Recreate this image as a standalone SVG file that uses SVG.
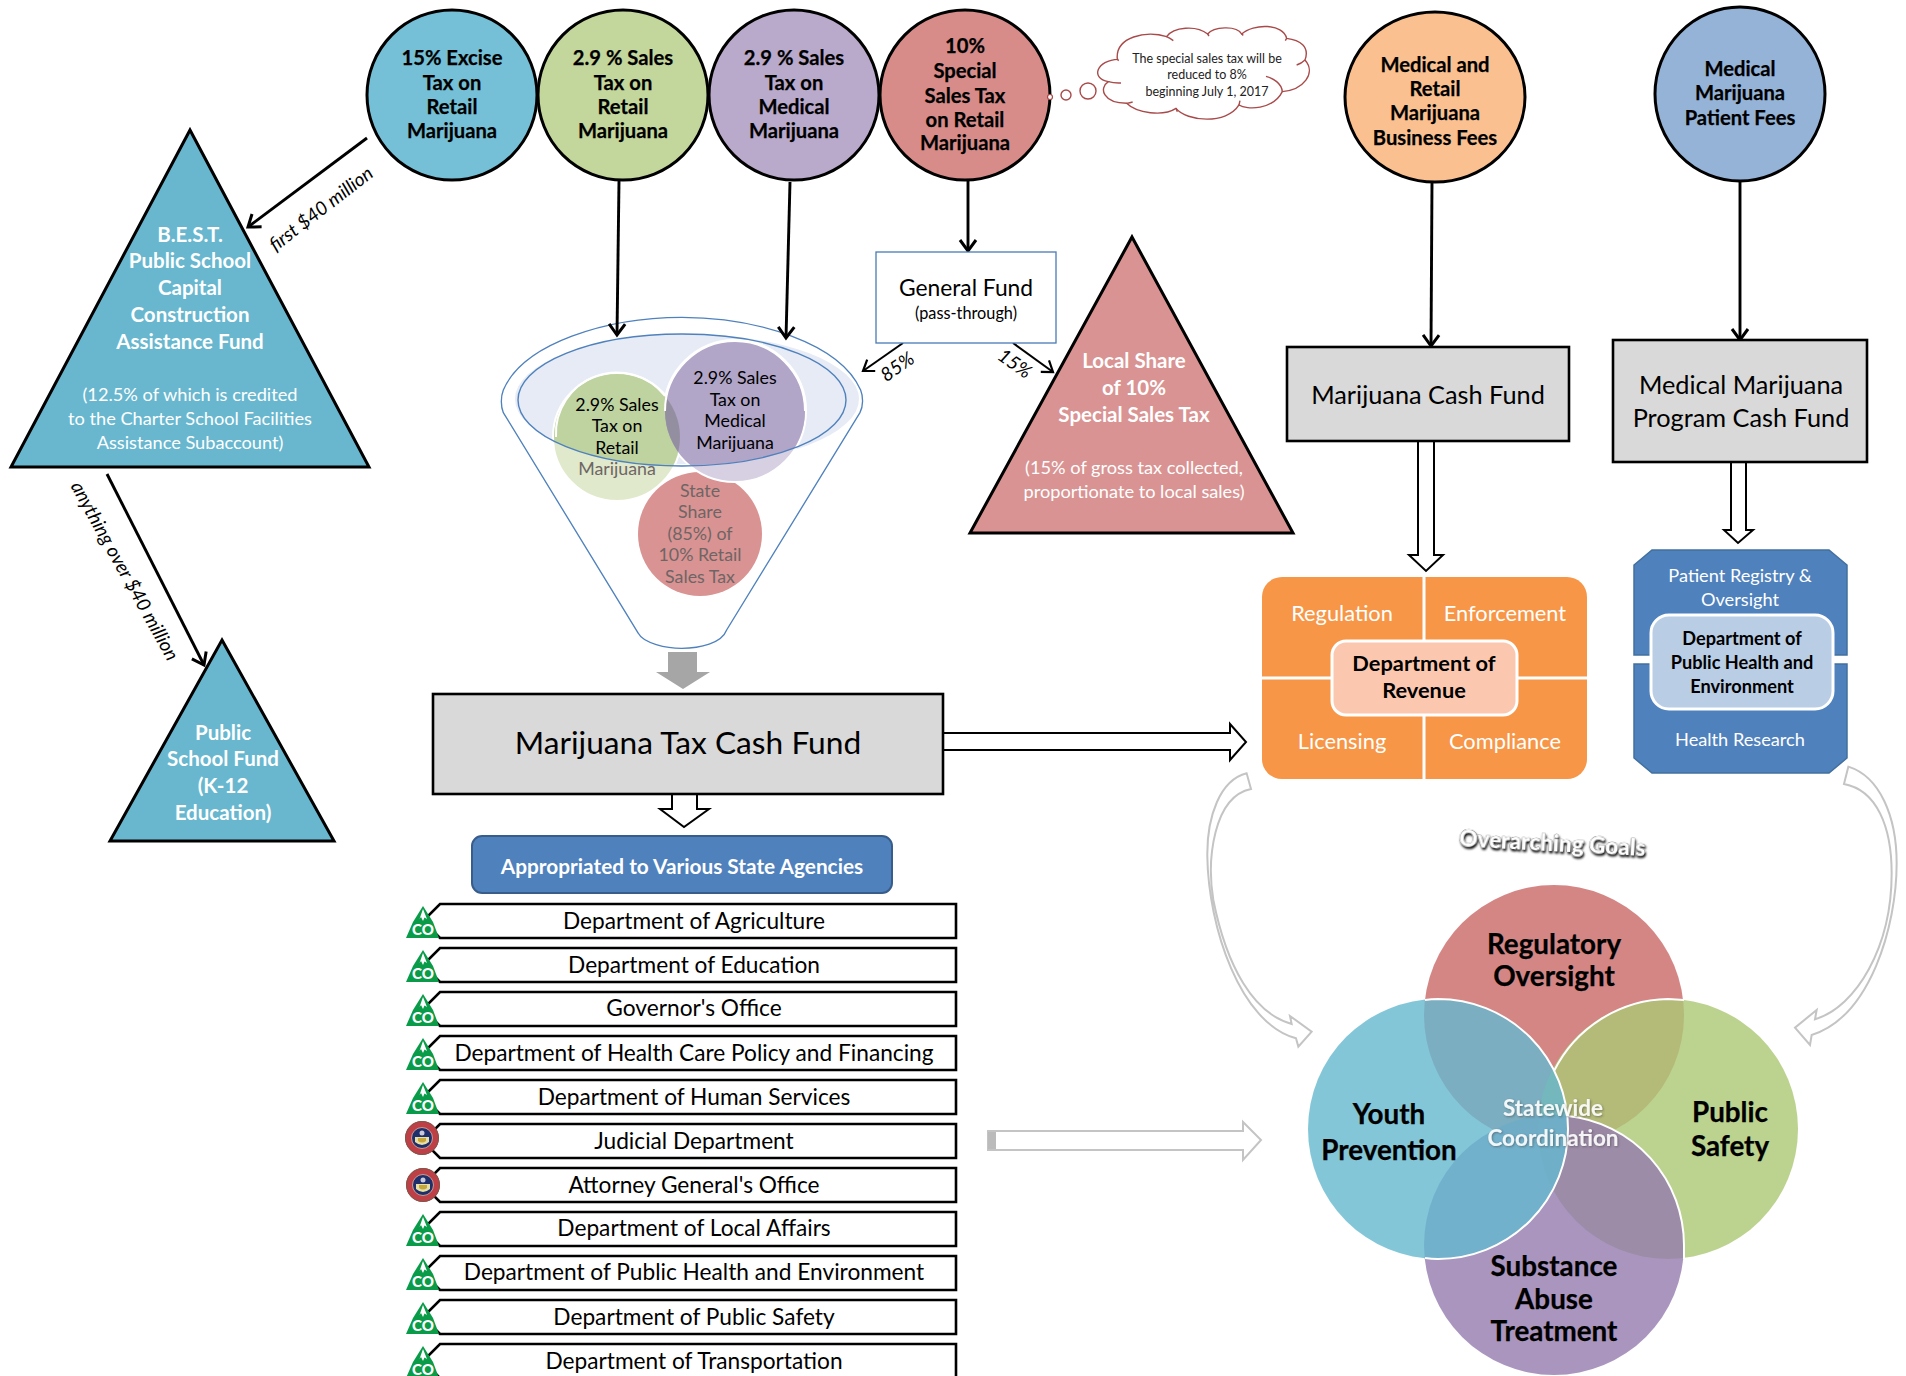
<svg xmlns="http://www.w3.org/2000/svg" width="1906" height="1376" viewBox="0 0 1906 1376">
<style>
text{font-family:"Lato","Open Sans","Liberation Sans",sans-serif;text-anchor:middle;fill:#000}
.b{font-weight:700}
.w{fill:#fff}
.tax{font-size:20.2px;font-weight:700;stroke:#000;stroke-width:.25}
.tri{stroke:#000;stroke-width:3}
.big{stroke:#000;stroke-width:3}
.cn{stroke:#000;stroke-width:2.9;fill:none;marker-end:url(#open)}
.thin{stroke:#000;stroke-width:2.1;fill:none;marker-end:url(#open2)}
.hollow{fill:#fff;stroke:#000;stroke-width:2}
.ghollow{fill:#fff;stroke:#c4c4c4;stroke-width:2}
.gray{fill:#d9d9d9;stroke:#000;stroke-width:2.6}
.row{fill:#fff;stroke:#000;stroke-width:2.6}
.rt{font-size:22.7px}
.co{font-size:15px;font-weight:900;fill:#fff}
.fun{font-size:17.8px}
.gr{fill:#6e6565}
.ov{font-size:27.8px;font-weight:700;stroke:#000;stroke-width:.25}
.it{font-style:italic;font-size:19px}
.sm{font-size:18.2px}
.wl{font-size:20.5px}
.or{font-size:21.8px}
.pb{font-size:18.2px}
.cl{font-size:12.5px;fill:#222}
.m{font-size:25.3px}
</style>
<defs>
<marker id="open" markerUnits="userSpaceOnUse" markerWidth="24" markerHeight="24" refX="20" refY="12" orient="auto"><path d="M9,4 L20,12 L9,20" fill="none" stroke="#000" stroke-width="3"/></marker>
<marker id="open2" markerUnits="userSpaceOnUse" markerWidth="24" markerHeight="24" refX="20" refY="12" orient="auto"><path d="M10,5 L20,12 L10,19" fill="none" stroke="#000" stroke-width="2.2"/></marker>
<path id="rowshape" class="row" d="M440,0H956V34H440L423,17Z"/>
<g id="coicon"><path d="M423,2L433,18L439,34H406L413,18Z" fill="#0a9b48"/><path d="M423,5L427,15L424.5,13.5L423,17L421,13L419.5,15Z" fill="#fff"/></g>
<g id="seal"><circle r="17" fill="#bf3f47"/><circle r="16.5" fill="none" stroke="#7a5a4a" stroke-width="1"/><circle r="10.5" fill="#1f2f6b" stroke="#d8b9a0" stroke-width=".8"/><path d="M-7,-1H7V4Q0,10-7,4Z" fill="#e6dfa8"/><path d="M-4,0H4V3Q0,6-4,3Z" fill="#c7a63a"/><circle cy="-5" r="2.5" fill="#c9c9d8"/></g>
<clipPath id="ell"><ellipse cx="682" cy="400" rx="164" ry="66"/></clipPath>
<clipPath id="gc"><circle cx="617" cy="437" r="63"/></clipPath>
<filter id="ds" x="-20%" y="-40%" width="140%" height="200%"><feDropShadow dx="1" dy="2" stdDeviation="1" flood-color="#000" flood-opacity="1"/></filter>
<filter id="ds2" x="-20%" y="-40%" width="140%" height="200%"><feDropShadow dx="1" dy="1" stdDeviation="1" flood-color="#444" flood-opacity=".6"/></filter>
</defs>

<g id="funnel">
<path transform="translate(480,300) scale(.3333)" d="M70,338C62,320 62,290 70,270C130,130 380,52 606,52C830,52 1080,130 1142,270C1150,290 1150,320 1140,338L740,990C725,1030 660,1045 605,1045C560,1045 490,1030 475,1000Z" fill="#fff" stroke="#4f81bd" stroke-width="4"/>
<ellipse cx="687" cy="399" rx="172" ry="65" fill="#e6ebf5"/>
<circle cx="700" cy="534" r="62" fill="#d99392"/>
<circle cx="617" cy="437" r="64" fill="#e0e9cb" stroke="#fff" stroke-width="2"/>
<circle cx="735" cy="411" r="71" fill="#d7cfe2" stroke="#fff" stroke-width="2"/>
<g clip-path="url(#ell)">
<circle cx="617" cy="437" r="63" fill="#bfd3a0"/>
<circle cx="735" cy="411" r="70" fill="#b1a5c8"/>
<g clip-path="url(#gc)"><circle cx="735" cy="411" r="70" fill="#948fa0"/></g>
<path d="M665,411A70,70 0 0 1 805,411" fill="none" stroke="#fff" stroke-width="2"/>
<path d="M556,437A61,61 0 0 1 665,396" fill="none" stroke="#fff" stroke-width="2"/>
</g>
<ellipse cx="682" cy="400" rx="164" ry="66" fill="none" stroke="#4f81bd" stroke-width="1.4"/>
<text class="fun" x="617" y="411">2.9% Sales</text><text class="fun" x="617" y="432">Tax on</text><text class="fun" x="617" y="454">Retail</text><text class="fun gr" x="617" y="475">Marijuana</text>
<text class="fun" x="735" y="384">2.9% Sales</text><text class="fun" x="735" y="406">Tax on</text><text class="fun" x="735" y="427">Medical</text><text class="fun" x="735" y="449">Marijuana</text>
<text class="fun gr" x="700" y="497">State</text><text class="fun gr" x="700" y="518">Share</text><text class="fun gr" x="700" y="540">(85%) of</text><text class="fun gr" x="700" y="561">10% Retail</text><text class="fun gr" x="700" y="583">Sales Tax</text>
<path d="M668,652H697V672H710L683,689L656,672H668Z" fill="#a6a6a6"/>
</g>

<g id="connectors">
<path class="cn" d="M367,138L248,227"/>
<path class="cn" d="M107,474L204,665"/>
<path class="cn" d="M619,181L617,335"/>
<path class="cn" d="M790,182L786,338"/>
<path class="cn" d="M968,181V251"/>
<path class="cn" d="M1432,182L1431,346"/>
<path class="cn" d="M1740,181V340"/>
<path class="thin" d="M903,343L863,371"/>
<path class="thin" d="M1013,343L1053,372"/>
<path class="hollow" d="M943,733H1230V724L1246,742L1230,760V750H943Z"/>
<path class="hollow" d="M672,794V809H660L684,827L709,809H697V794Z"/>
<path class="hollow" d="M1418,441V555H1409L1426,571L1443,555H1434V441Z"/>
<path class="hollow" d="M1731,462V530H1724L1738,543L1753,530H1746V462Z"/>
<path class="ghollow" d="M988,1131H1243V1122L1261,1140L1243,1160V1150H988Z"/><rect x="988" y="1132" width="8" height="17" fill="#bbb"/>
<path class="ghollow" transform="translate(1190,760) scale(.3333)" style="stroke-width:6" d="M170,40C90,60 50,170 52,290C55,500 150,790 318,835L325,860L365,815L300,768L305,792C190,760 110,620 70,420C50,300 70,110 183,87Z"/>
<path class="ghollow" transform="translate(1780,760) scale(.3333)" style="stroke-width:6" d="M205,20C300,50 350,170 350,310C350,500 270,770 95,825L90,855L45,803L110,750L105,778C230,740 335,560 335,340C335,200 290,90 192,72Z"/>
</g>

<g id="tax-excise"><ellipse class="big" cx="452" cy="95" rx="85" ry="85" fill="#75c0d6"/>
<text class="tax" x="452" y="65">15% Excise</text><text class="tax" x="452" y="90">Tax on</text><text class="tax" x="452" y="114">Retail</text><text class="tax" x="452" y="138">Marijuana</text></g>
<g id="tax-sales-retail"><ellipse class="big" cx="623" cy="95" rx="85" ry="85" fill="#c3d69b"/>
<text class="tax" x="623" y="65">2.9 % Sales</text><text class="tax" x="623" y="90">Tax on</text><text class="tax" x="623" y="114">Retail</text><text class="tax" x="623" y="138">Marijuana</text></g>
<g id="tax-sales-medical"><ellipse class="big" cx="794" cy="95" rx="85" ry="85" fill="#b9a9cb"/>
<text class="tax" x="794" y="65">2.9 % Sales</text><text class="tax" x="794" y="90">Tax on</text><text class="tax" x="794" y="114">Medical</text><text class="tax" x="794" y="138">Marijuana</text></g>
<g id="tax-special"><ellipse class="big" cx="965" cy="95" rx="85" ry="85" fill="#d78c8a"/>
<text class="tax" x="965" y="53">10%</text><text class="tax" x="965" y="78">Special</text><text class="tax" x="965" y="103">Sales Tax</text><text class="tax" x="965" y="127">on Retail</text><text class="tax" x="965" y="150">Marijuana</text></g>
<g id="fees-business"><ellipse class="big" cx="1435" cy="97" rx="90" ry="85" fill="#fac090"/>
<text class="tax" x="1435" y="72">Medical and</text><text class="tax" x="1435" y="96">Retail</text><text class="tax" x="1435" y="120">Marijuana</text><text class="tax" x="1435" y="145">Business Fees</text></g>
<g id="fees-patient"><ellipse class="big" cx="1740" cy="94" rx="85" ry="87" fill="#95b3d7"/>
<text class="tax" x="1740" y="76">Medical</text><text class="tax" x="1740" y="100">Marijuana</text><text class="tax" x="1740" y="125">Patient Fees</text></g>

<g id="thought">
<circle cx="1050" cy="97" r="2.5" fill="#fff" stroke="#a94a4a" stroke-width="1.2"/><circle cx="1066" cy="95" r="5" fill="#fff" stroke="#a94a4a" stroke-width="1.4"/><circle cx="1088" cy="91" r="8" fill="#fff" stroke="#a94a4a" stroke-width="1.4"/>
<g transform="translate(1040,10) scale(.3333)" fill="none" stroke="#a94a4a" stroke-width="4.2">
<path fill="#fff" d="M235,148C170,150 150,205 205,215C175,235 190,280 260,280C290,310 370,320 408,295C440,335 560,345 597,285C620,300 700,300 727,245C790,240 830,190 795,150C810,110 780,90 740,85C730,40 640,40 605,72C590,45 520,50 503,72C470,45 400,50 380,80C320,60 225,80 232,148Z"/>
<path d="M205,215Q222,220 243,219M260,280Q270,278 278,276M408,295L412,305M597,285L600,272M727,245C725,220 700,205 678,199M795,150Q785,160 770,165M740,85L736,92M605,72L610,76M503,72L507,78M380,80Q390,85 400,92M232,148L236,152"/>
</g>
<text class="cl" x="1207" y="63">The special sales tax will be</text><text class="cl" x="1207" y="79">reduced to 8%</text><text class="cl" x="1207" y="96">beginning July 1, 2017</text>
</g>

<g id="best"><path class="tri" d="M190,130L369,467H11Z" fill="#68b7cf"/>
<text class="wl b w" x="190" y="242">B.E.S.T.</text><text class="wl b w" x="190" y="268">Public School</text><text class="wl b w" x="190" y="295">Capital</text><text class="wl b w" x="190" y="322">Construction</text><text class="wl b w" x="190" y="349">Assistance Fund</text>
<text class="sm w" x="190" y="401">(12.5% of which is credited</text><text class="sm w" x="190" y="425">to the Charter School Facilities</text><text class="sm w" x="190" y="449">Assistance Subaccount)</text></g>
<text class="it" transform="translate(325,214) rotate(-37.5)">first $40 million</text>
<text class="it" transform="translate(119,574) rotate(61)">anything over $40 million</text>
<g id="public-school-fund"><path class="tri" d="M222,640L334,841H110Z" fill="#68b7cf"/>
<text class="wl b w" x="223" y="740">Public</text><text class="wl b w" x="223" y="766">School Fund</text><text class="wl b w" x="223" y="793">(K-12</text><text class="wl b w" x="223" y="820">Education)</text></g>

<g id="general-fund"><rect x="876" y="252" width="180" height="91" fill="#fff" stroke="#4a7ab5" stroke-width="1.3"/>
<text x="966" y="296" style="font-size:22.8px">General Fund</text><text x="966" y="319" style="font-size:16.3px">(pass-through)</text></g>
<text class="it" transform="translate(901,372) rotate(-35)">85%</text>
<text class="it" transform="translate(1011,369) rotate(35)">15%</text>
<g id="local-share"><path class="tri" d="M1132,237L1293,533H970Z" fill="#d99392"/>
<text class="wl b w" x="1134" y="368">Local Share</text><text class="wl b w" x="1134" y="395">of 10%</text><text class="wl b w" x="1134" y="422">Special Sales Tax</text>
<text class="sm w" x="1134" y="474">(15% of gross tax collected,</text><text class="sm w" x="1134" y="498">proportionate to local sales)</text></g>

<g id="marijuana-cash-fund"><rect class="gray" x="1287" y="347" width="282" height="94"/><text class="m" x="1428" y="404">Marijuana Cash Fund</text></g>
<g id="medical-cash-fund"><rect class="gray" x="1613" y="340" width="254" height="122"/><text class="m" x="1741" y="394">Medical Marijuana</text><text class="m" x="1741" y="427">Program Cash Fund</text></g>
<g id="tax-cash-fund"><rect class="gray" x="433" y="694" width="510" height="100"/><text x="688" y="754" style="font-size:31.7px">Marijuana Tax Cash Fund</text></g>

<g id="revenue"><rect x="1262" y="577" width="325" height="202" rx="20" fill="#f79646"/>
<path d="M1424,577V779M1262,678H1587" stroke="#fff" stroke-width="3"/>
<text class="or w" x="1342" y="621">Regulation</text><text class="or w" x="1505" y="621">Enforcement</text><text class="or w" x="1342" y="749">Licensing</text><text class="or w" x="1505" y="749">Compliance</text>
<rect x="1332" y="641" width="185" height="74" rx="14" fill="#fbc8af" stroke="#fff" stroke-width="3"/>
<text class="or b" x="1424" y="671">Department of</text><text class="or b" x="1424" y="698">Revenue</text></g>

<g id="public-health"><path d="M1652,550H1829L1847,565V655H1634V565Z M1634,664H1847V758L1829,773H1652L1634,758Z" fill="#4f81bd" stroke="#41709f" stroke-width="1.5"/>
<text x="1740" y="582" class="pb w">Patient Registry &amp;</text><text x="1740" y="606" class="pb w">Oversight</text><text x="1740" y="746" class="pb w">Health Research</text>
<rect x="1651" y="615" width="182" height="94" rx="18" fill="#b9cde5" stroke="#fff" stroke-width="3"/>
<text x="1742" y="645" class="b pb">Department of</text><text x="1742" y="669" class="b pb">Public Health and</text><text x="1742" y="693" class="b pb">Environment</text></g>

<g id="appropriated"><rect x="472" y="836" width="420" height="57" rx="10" fill="#4f81bd" stroke="#385d8a" stroke-width="2"/><text x="682" y="873.5" class="b w" style="font-size:20.8px">Appropriated to Various State Agencies</text></g>

<g id="agency-agriculture" transform="translate(0,904)"><use href="#rowshape"/><use href="#coicon"/><text class="co" x="423" y="30.5">CO</text><text class="rt" x="694" y="24.8">Department of Agriculture</text></g>
<g id="agency-education" transform="translate(0,948)"><use href="#rowshape"/><use href="#coicon"/><text class="co" x="423" y="30.5">CO</text><text class="rt" x="694" y="24.8">Department of Education</text></g>
<g id="agency-governor" transform="translate(0,992)"><use href="#rowshape"/><use href="#coicon"/><text class="co" x="423" y="30.5">CO</text><text class="rt" x="694" y="24">Governor's Office</text></g>
<g id="agency-hcpf" transform="translate(0,1036)"><use href="#rowshape"/><use href="#coicon"/><text class="co" x="423" y="30.5">CO</text><text class="rt" x="694" y="24.8">Department of Health Care Policy and Financing</text></g>
<g id="agency-human-services" transform="translate(0,1080)"><use href="#rowshape"/><use href="#coicon"/><text class="co" x="423" y="30.5">CO</text><text class="rt" x="694" y="24.8">Department of Human Services</text></g>
<g id="agency-judicial" transform="translate(0,1124)"><use href="#rowshape"/><use href="#seal" x="422" y="14"/><text class="rt" x="694" y="24.8">Judicial Department</text></g>
<g id="agency-ag" transform="translate(0,1168)"><use href="#rowshape"/><use href="#seal" x="423" y="17"/><text class="rt" x="694" y="24.8">Attorney General's Office</text></g>
<g id="agency-local-affairs" transform="translate(0,1212)"><use href="#rowshape"/><use href="#coicon"/><text class="co" x="423" y="30.5">CO</text><text class="rt" x="694" y="24">Department of Local Affairs</text></g>
<g id="agency-cdphe" transform="translate(0,1256)"><use href="#rowshape"/><use href="#coicon"/><text class="co" x="423" y="30.5">CO</text><text class="rt" x="694" y="24">Department of Public Health and Environment</text></g>
<g id="agency-public-safety" transform="translate(0,1300)"><use href="#rowshape"/><use href="#coicon"/><text class="co" x="423" y="30.5">CO</text><text class="rt" x="694" y="24.8">Department of Public Safety</text></g>
<g id="agency-transportation" transform="translate(0,1344)"><use href="#rowshape"/><use href="#coicon"/><text class="co" x="423" y="30.5">CO</text><text class="rt" x="694" y="24.8">Department of Transportation</text></g>

<text transform="translate(1552,851) rotate(3)" class="w" filter="url(#ds)" style="font-size:22.6px;font-weight:900;stroke:#444;stroke-width:.7;paint-order:stroke">Overarching Goals</text>

<g id="venn">
<g id="goal-regulatory"><circle cx="1554" cy="1015" r="130" fill="#c96866" fill-opacity=".8"/></g>
<g id="goal-safety"><circle cx="1668" cy="1129" r="130" fill="#abc773" fill-opacity=".8"/></g>
<g id="goal-treatment"><circle cx="1554" cy="1245" r="130" fill="#947aae" fill-opacity=".8"/></g>
<g id="goal-youth"><circle cx="1438" cy="1129" r="130" fill="#64b8ce" fill-opacity=".8"/></g>
<path d="M1425,1000A130,130 0 0 1 1438,999A130,130 0 0 1 1568,1129A130,130 0 0 1 1438,1259A130,130 0 0 1 1425,1258" fill="none" stroke="#fff" stroke-width="2"/>
<path d="M1554,1071A130,130 0 0 1 1668,999L1684,1000" fill="none" stroke="#fff" stroke-width="2"/>
<path d="M1568,1116A130,130 0 0 1 1684,1245V1259" fill="none" stroke="#fff" stroke-width="2"/>
<text class="ov" x="1554" y="954">Regulatory</text><text class="ov" x="1554" y="986">Oversight</text>
<text class="ov" x="1389" y="1124">Youth</text><text class="ov" x="1389" y="1160">Prevention</text>
<text class="ov" x="1730" y="1122">Public</text><text class="ov" x="1730" y="1156">Safety</text>
<text class="ov" x="1554" y="1276">Substance</text><text class="ov" x="1554" y="1309">Abuse</text><text class="ov" x="1554" y="1341">Treatment</text>
<text class="b w" filter="url(#ds2)" x="1553" y="1116" style="font-size:22.5px;opacity:.9">Statewide</text><text class="b w" filter="url(#ds2)" x="1553" y="1146" style="font-size:22.5px;opacity:.9">Coordination</text>
</g>
</svg>
